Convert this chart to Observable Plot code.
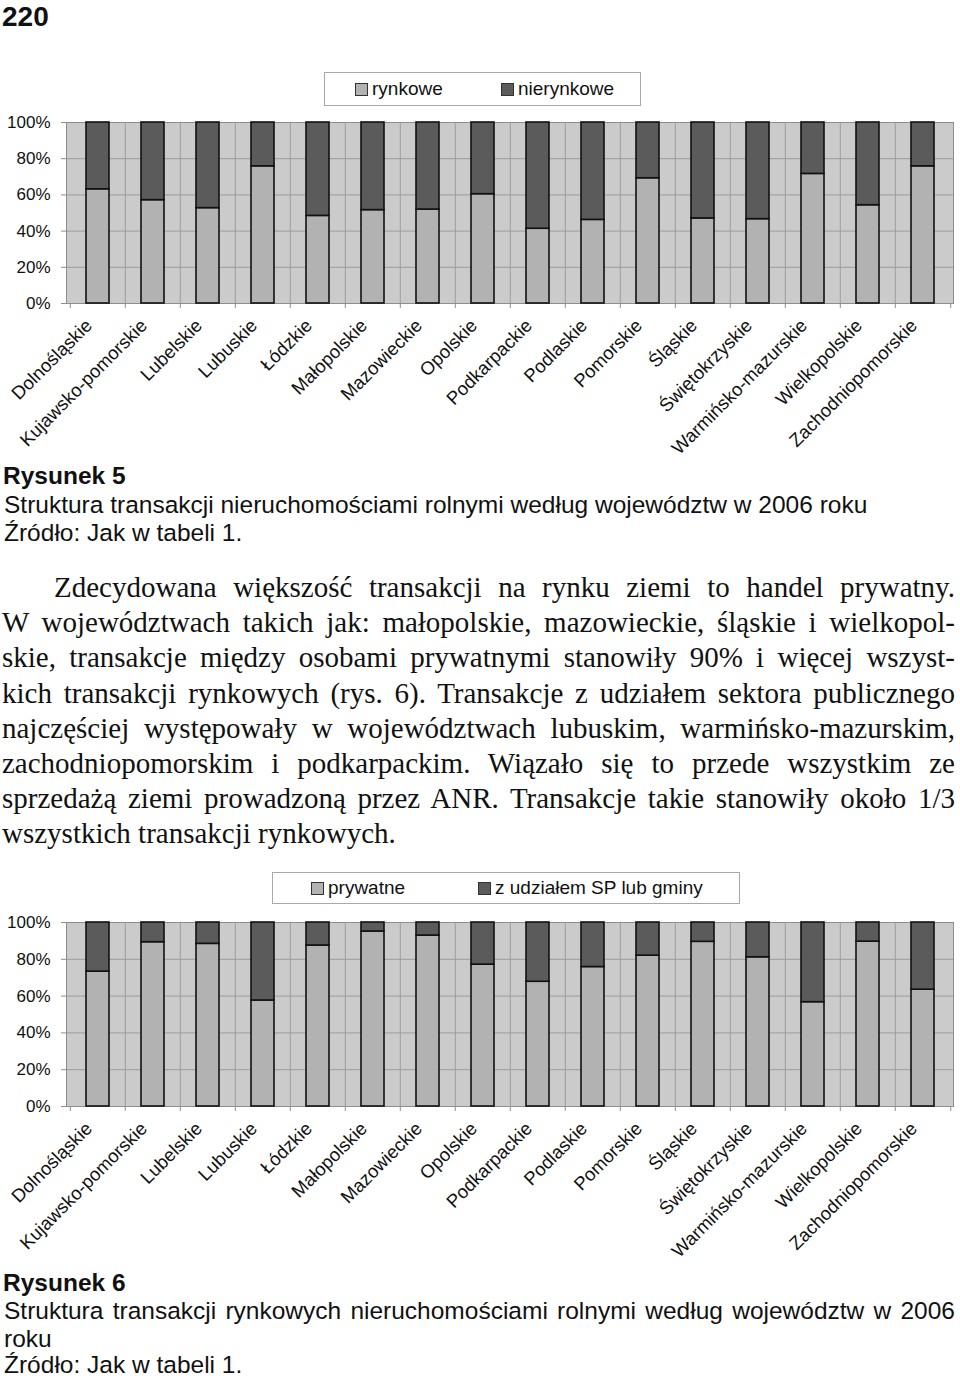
<!DOCTYPE html>
<html><head><meta charset="utf-8">
<script src="https://cdn.jsdelivr.net/npm/d3@7"></script>
<script src="https://cdn.jsdelivr.net/npm/@observablehq/plot@0.6"></script>
<style>
html,body{margin:0;padding:0;background:#fff;}
#page{position:relative;width:960px;height:1378px;overflow:hidden;background:#fff;}
.chart{position:absolute;left:0;}
.legend{position:absolute;background:#fff;border:1px solid #a8a8a8;box-sizing:border-box;}
.sw{position:absolute;width:13px;height:13px;border:1px solid #333;box-sizing:border-box;}
.lt{position:absolute;font-family:"Liberation Sans",Arial,sans-serif;font-size:19px;color:#111;white-space:nowrap;line-height:19px;}
</style></head>
<body><div id="page"></div>
<script>
// ---- data ----
const wojewodztwa = ["Dolnośląskie","Kujawsko-pomorskie","Lubelskie","Lubuskie","Łódzkie","Małopolskie","Mazowieckie","Opolskie","Podkarpackie","Podlaskie","Pomorskie","Śląskie","Świętokrzyskie","Warmińsko-mazurskie","Wielkopolskie","Zachodniopomorskie"];
// Rysunek 5 (%)
const rynkowe    = [63.1, 57.1, 52.7, 75.8, 48.4, 51.6, 51.9, 60.4, 41.3, 46.2, 69.2, 47.0, 46.6, 71.6, 54.3, 75.8];
const nierynkowe = [36.9, 42.9, 47.3, 24.2, 51.6, 48.4, 48.1, 39.6, 58.7, 53.8, 30.8, 53.0, 53.4, 28.4, 45.7, 24.2];
// Rysunek 6 (%)
const prywatne   = [73.3, 89.3, 88.4, 57.6, 87.5, 95.1, 92.9, 77.1, 67.8, 75.8, 82.0, 89.5, 81.1, 56.7, 89.6, 63.5];
const zUdzialemSP= [26.7, 10.7, 11.6, 42.4, 12.5,  4.9,  7.1, 22.9, 32.2, 24.2, 18.0, 10.5, 18.9, 43.3, 10.4, 36.5];
const yTicks = [0, 20, 40, 60, 80, 100];
const legend1 = ["rynkowe", "nierynkowe"];
const legend2 = ["prywatne", "z udziałem SP lub gminy"];

const SANS = '"Liberation Sans", Arial, sans-serif';
const BG = "#cbcbcb", GRID = "#9c9c9c", FRAME = "#8e8e8e", LIGHT = "#b2b2b2", DARK = "#5b5b5b", INK = "#111";

const page = document.getElementById("page");

// pick an installed Times-like serif
function pickSerif() {
  const c = document.createElement("canvas").getContext("2d");
  const sample = "Wiązało się to przede wszystkim abcdefghijklmnopqrstuvwxyz 0123456789";
  const w = f => { c.font = "40px " + f; return c.measureText(sample).width; };
  const cands = ["Liberation Serif", "Tinos", "Times New Roman", "Nimbus Roman", "Nimbus Roman No9 L", "FreeSerif", "Noto Serif", "DejaVu Serif Condensed"];
  for (const f of cands) {
    const q = '"' + f + '"';
    if (w(q + ", monospace") !== w("monospace") && w(q + ", sans-serif") !== w("sans-serif")) return q + ", serif";
  }
  return "serif";
}
const SERIF = pickSerif();

function chart(light, dark, top, plotH) {
  const W = 960, ml = 66, mr = 7, mt = 12, mb = 160;
  const step = (W - ml - mr) / wojewodztwa.length;
  const rows = wojewodztwa.map((c, i) => ({c, a: light[i], b: dark[i]}));
  const svg = Plot.plot({
    width: W, height: mt + plotH + mb,
    marginLeft: ml, marginRight: mr, marginTop: mt, marginBottom: mb,
    style: {fontFamily: SANS, fontSize: "17px", color: INK, background: "transparent", overflow: "visible"},
    x: {domain: wojewodztwa, paddingInner: 0.585, paddingOuter: 0.2925},
    y: {domain: [0, 100]},
    marks: [
      Plot.frame({fill: BG, stroke: "none"}),
      Plot.gridY(yTicks.slice(1, -1), {stroke: GRID, strokeOpacity: 1}),
      Plot.gridX(wojewodztwa.slice(1), {dx: -step / 2, stroke: GRID, strokeOpacity: 1}),
      Plot.frame({stroke: FRAME}),
      Plot.barY(rows, {x: "c", y1: 0, y2: "a", fill: LIGHT, stroke: INK, strokeWidth: 1.6}),
      Plot.barY(rows, {x: "c", y1: "a", y2: d => d.a + d.b, fill: DARK, stroke: INK, strokeWidth: 1.6}),
      Plot.axisY({ticks: yTicks, tickFormat: d => d + "%", tickSize: 5, tickPadding: 11, fontSize: 17, label: null, stroke: FRAME}),
      Plot.axisX({ticks: wojewodztwa, tickSize: 5, tickFormat: () => "", dx: -step / 2, label: null, stroke: FRAME}),
      Plot.axisX({ticks: wojewodztwa.slice(-1), tickSize: 5, tickFormat: () => "", dx: step / 2, label: null, stroke: FRAME}),
      Plot.axisX({tickSize: 0, tickRotate: -45, tickPadding: 14, dx: -9, dy: 5, fontSize: 18.5, label: null})
    ]
  });
  const div = document.createElement("div");
  div.className = "chart";
  div.style.top = (top - mt) + "px";
  div.appendChild(svg);
  page.appendChild(div);
}

function legend(box, items) {
  const d = document.createElement("div");
  d.className = "legend";
  Object.assign(d.style, {left: box.x + "px", top: box.y + "px", width: box.w + "px", height: box.h + "px"});
  items.forEach((it, i) => {
    const s = document.createElement("div");
    s.className = "sw";
    Object.assign(s.style, {left: (it.sx - box.x) + "px", top: (box.h / 2 - 7) + "px", background: i === 0 ? LIGHT : DARK});
    const t = document.createElement("div");
    t.className = "lt";
    t.textContent = it.label;
    Object.assign(t.style, {left: (it.tx - box.x) + "px", top: (box.h / 2 - 11) + "px"});
    d.appendChild(s); d.appendChild(t);
  });
  page.appendChild(d);
}

chart(rynkowe, nierynkowe, 122, 181);
chart(prywatne, zUdzialemSP, 922, 184);
legend({x: 324, y: 72, w: 317, h: 34}, [{label: legend1[0], sx: 354, tx: 371}, {label: legend1[1], sx: 500, tx: 517}]);
legend({x: 272, y: 872, w: 468, h: 32}, [{label: legend2[0], sx: 310, tx: 327}, {label: legend2[1], sx: 477, tx: 494}]);

// ---- page text overlay ----
const ov = d3.select(page).append("svg").attr("width", 960).attr("height", 1378)
  .style("position", "absolute").style("left", 0).style("top", 0).style("pointer-events", "none");

function txt(x, y, s, font, size, weight) {
  return ov.append("text").attr("x", x).attr("y", y)
    .style("font-family", font).style("font-size", size + "px").style("font-weight", weight || "normal")
    .attr("fill", INK).text(s);
}
function justify(t, width) {
  const s = t.text();
  const n = (s.match(/ /g) || []).length;
  const w = t.node().getComputedTextLength();
  if (n > 0 && width > w) t.style("word-spacing", ((width - w) / n) + "px");
}

txt(2, 25.5, "220", SANS, 28, "bold");

// captions
const cap1 = "Struktura transakcji nieruchomościami rolnymi według województw w 2006 roku";
const probe = txt(4, -100, cap1, SANS, 100);
const capSize = Math.max(22, Math.min(26, 100 * 864 / probe.node().getComputedTextLength()));
probe.remove();

txt(3, 484, "Rysunek 5", SANS, capSize, "bold");
txt(4, 512.5, cap1, SANS, capSize);
txt(4, 541, "Źródło: Jak w tabeli 1.", SANS, capSize);

txt(3, 1291, "Rysunek 6", SANS, capSize, "bold");
justify(txt(4, 1319, "Struktura transakcji rynkowych nieruchomościami rolnymi według województw w 2006", SANS, capSize), 951);
txt(4, 1346.5, "roku", SANS, capSize);
txt(4, 1372.5, "Źródło: Jak w tabeli 1.", SANS, capSize);

// paragraph (Times-like, justified)
const para = [
  "Zdecydowana większość transakcji na rynku ziemi to handel prywatny.",
  "W województwach takich jak: małopolskie, mazowieckie, śląskie i wielkopol-",
  "skie, transakcje między osobami prywatnymi stanowiły 90% i więcej wszyst-",
  "kich transakcji rynkowych (rys. 6). Transakcje z udziałem sektora publicznego",
  "najczęściej występowały w województwach lubuskim, warmińsko-mazurskim,",
  "zachodniopomorskim i podkarpackim. Wiązało się to przede wszystkim ze",
  "sprzedażą ziemi prowadzoną przez ANR. Transakcje takie stanowiły około 1/3",
  "wszystkich transakcji rynkowych."
];
const left = 2, right = 955, indent = 52, pSize = 29;
let kx = 1;
para.forEach((s, i) => {
  const p = txt(0, -100, s, SERIF, pSize);
  const avail = right - left - (i === 0 ? indent : 0);
  kx = Math.min(kx, avail / p.node().getComputedTextLength());
  p.remove();
});
para.forEach((s, i) => {
  const x = left + (i === 0 ? indent : 0);
  const t = txt(x / kx, 597 + i * 35.2, s, SERIF, pSize).attr("transform", `scale(${kx},1)`);
  if (i < para.length - 1) justify(t, (right - x) / kx);
});
</script>
</body></html>
